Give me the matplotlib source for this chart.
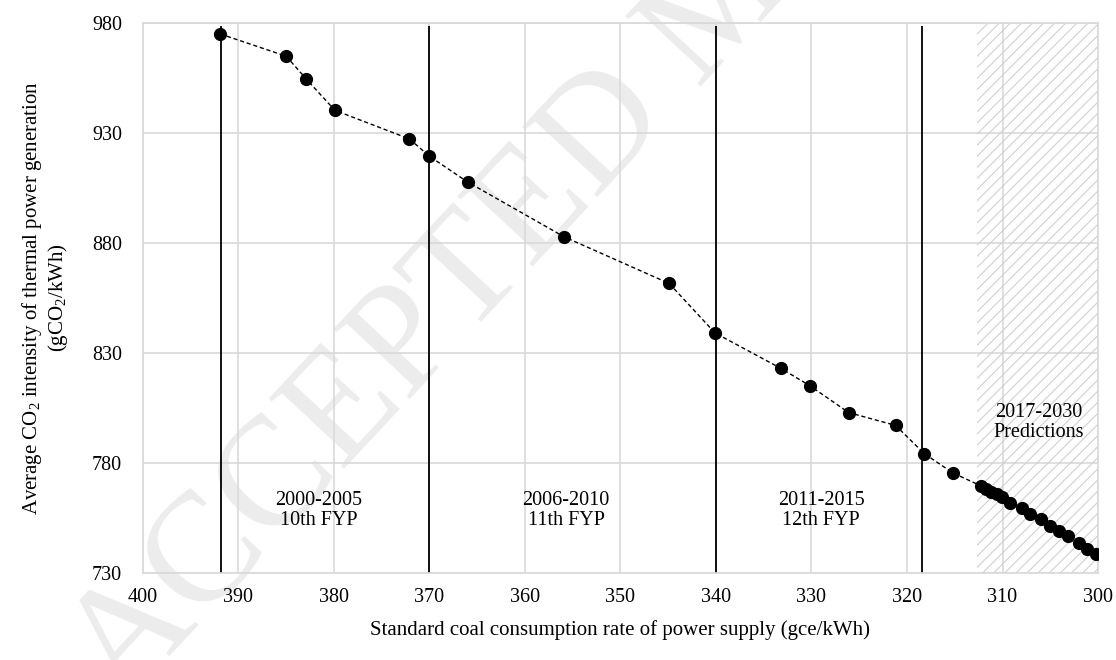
import matplotlib
matplotlib.use("Agg")
import matplotlib.pyplot as plt

# ---------------- data ----------------
coal_rate = [391.9, 385.0, 382.9, 379.9, 372.1, 370.0, 366.0, 355.9, 344.9, 340.1,
             333.2, 330.2, 326.1, 321.2, 318.2, 315.2,
             312.2, 311.7, 311.2, 310.6, 310.1, 309.2, 308.0, 307.1, 306.0,
             305.0, 304.1, 303.1, 302.0, 301.1, 300.2]
co2_intensity = [975.0, 964.9, 954.5, 940.3, 927.3, 919.4, 907.7, 882.8, 861.6, 839.1,
                 823.0, 815.2, 802.9, 797.1, 784.3, 775.5,
                 769.5, 768.3, 767.0, 765.7, 764.6, 761.9, 759.5, 757.0, 754.4,
                 751.5, 749.1, 746.7, 743.8, 741.1, 738.8]
period_bounds = [391.8, 370.0, 340.0, 318.4]
prediction_start = 312.65
period_labels = ["2000-2005\n10th FYP", "2006-2010\n11th FYP", "2011-2015\n12th FYP"]
period_label_x = [381.6, 355.7, 329.0]
prediction_label = "2017-2030\nPredictions"
prediction_label_x = 306.2
x_ticks = list(range(400, 299, -10))
y_ticks = [730, 780, 830, 880, 930, 980]

# ---------------- style ----------------
plt.rcParams['font.family'] = ['Liberation Serif', 'DejaVu Serif']
plt.rcParams['mathtext.fontset'] = 'custom'
plt.rcParams['mathtext.rm'] = 'Liberation Serif'
plt.rcParams['mathtext.it'] = 'Liberation Serif:italic'
plt.rcParams['hatch.linewidth'] = 0.8
plt.rcParams['hatch.color'] = '#d0d0d0'

W, H = 1116, 660
fig = plt.figure(figsize=(W / 100, H / 100), dpi=100)
L, R, T, B = 143, 1098, 23, 573
ax = fig.add_axes([L / W, 1 - B / H, (R - L) / W, (B - T) / H])
ax.set_facecolor('none')

grid_c = '#d9d9d9'

# watermark
fig.text(725 / W, 1 - 5 / H, "ACCEPTED MANUSCRIPT", fontsize=112, color='#ececec',
         rotation=47, rotation_mode='anchor', ha='center', va='center', zorder=-1)

ax.set_xlim(400, 300)
ax.set_ylim(730, 980)
ax.set_xticks(x_ticks)
ax.set_yticks(y_ticks)
ax.grid(True, color=grid_c, linewidth=1.2, zorder=0)
ax.set_axisbelow(True)
for s in ax.spines.values():
    s.set_color(grid_c)
    s.set_linewidth(1.2)
ax.tick_params(length=0, labelsize=14.5)
ax.tick_params(axis='y', pad=15)
ax.tick_params(axis='x', pad=11)

# prediction hatch
ax.axvspan(prediction_start, 300, facecolor='none', edgecolor='#d0d0d0', hatch='///',
           linewidth=0, zorder=1)

# period boundaries
ax.vlines(period_bounds, 730, 978.5, colors='black', linewidth=1.3, zorder=2)

# data
ax.plot(coal_rate, co2_intensity, color='black', linestyle=(0, (3, 2)), linewidth=1.0,
        marker='o', markersize=8.5, markerfacecolor='black', markeredgecolor='black',
        zorder=3)

for txt, xv in zip(period_labels, period_label_x):
    ax.text(xv, 758.5, txt, ha='center', va='center', fontsize=14.5, linespacing=1.1,
            zorder=4)
ax.text(prediction_label_x, 798.3, prediction_label, ha='center', va='center',
        fontsize=14.5, linespacing=1.1, zorder=4)

ax.set_xlabel("Standard coal consumption rate of power supply (gce/kWh)", fontsize=15)
ax.xaxis.label.set_va('center')
ax.xaxis.set_label_coords(0.5, (B - 630) / (B - T))
ax.set_ylabel("Average CO$_2$ intensity of thermal power generation\n(gCO$_2$/kWh)",
              fontsize=15, linespacing=1.1)
ax.yaxis.label.set_va('center')
ax.yaxis.set_label_coords((45 - L) / (R - L), 0.5)

fig.savefig("out.png", dpi=100)
